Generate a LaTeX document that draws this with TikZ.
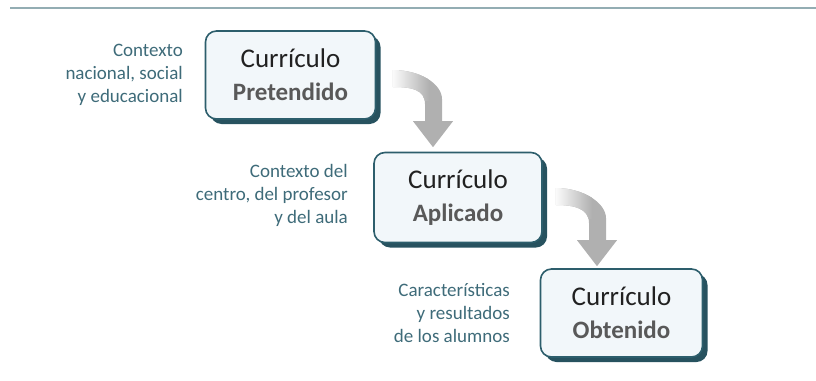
\documentclass[tikz,border=0pt]{standalone}
\usepackage{fontspec}
\setmainfont{Carlito}
\usetikzlibrary{calc,shadows}
\definecolor{boxborder}{HTML}{2D5E6C}
\definecolor{boxshadow}{HTML}{27525F}
\definecolor{boxfill}{HTML}{F2F7FA}
\definecolor{labelc}{HTML}{3E6B79}
\definecolor{toplinec}{HTML}{93ADB3}
\definecolor{secondc}{HTML}{595959}
\definecolor{arrowc}{HTML}{B0B0B0}
\tikzset{
  currbox/.style={draw=boxborder, line width=1.6pt, fill=boxfill, rounded corners=11pt,
    minimum height=88pt, inner sep=0pt, align=center,
    font=\fontsize{27}{33}\selectfont, text=black!87,
    drop shadow={shadow xshift=5pt, shadow yshift=-5pt, fill=boxshadow, opacity=1}},
  ctxlabel/.style={anchor=east, align=right, inner sep=0pt, text=labelc,
    font=\fontsize{19}{23}\selectfont},
}
\newcommand\flowarrow[2]{%
  \begin{scope}
    \clip (#1) .. controls ($(#1)+(28,0)$) and ($(#2)+(9,-63)$) .. ($(#2)+(9,-48)$)
      -- ($(#2)+(9,-26)$) -- ($(#2)+(20,-26)$) -- (#2) -- ($(#2)+(-20,-26)$)
      -- ($(#2)+(-8,-26)$) -- ($(#2)+(-8,-43)$)
      .. controls ($(#2)+(-8,-58)$) and ($(#1)+(18,17)$) .. ($(#1)+(0,17)$) -- cycle;
    \fill[arrowc] ($(#1)+(-2,-2)$) rectangle ($(#2)+(22,2)$);
    \shade[left color=white, right color=arrowc] ($(#1)+(-2,-2)$) rectangle ($(#1)+(36,30)$);
  \end{scope}}
\begin{document}
\begin{tikzpicture}[x=1pt,y=-1pt]
  \useasboundingbox (0,0) rectangle (816,380);
  \coordinate (tl) at (10,8);
  \coordinate (tr) at (816,8);
  \draw[toplinec, line width=1.5pt] (tl) -- (tr);

  \node[currbox, minimum width=170pt] (b1) at (290.5,75) {Currículo\\{\fontsize{25}{33}\selectfont\bfseries\color{secondc}Pretendido}};
  \node[currbox, minimum width=168pt, minimum height=90pt] (b2) at (458,197.5) {Currículo\\{\fontsize{25}{33}\selectfont\bfseries\color{secondc}Aplicado}};
  \node[currbox, minimum width=162pt] (b3) at (621.5,313) {Currículo\\{\fontsize{25}{33}\selectfont\bfseries\color{secondc}Obtenido}};

  \node[ctxlabel] (l1) at (183,75) {Contexto\\nacional, social\\y educacional};
  \node[ctxlabel] (l2) at (348,195) {Contexto del\\centro, del profesor\\y del aula};
  \node[ctxlabel] (l3) at (510,313) {Características\\y resultados\\de los alumnos};

  \coordinate (a1s) at ($(b1.east)+(16.5,-5)$);
  \coordinate (a1t) at ($(b2.north)+(-25,-4.5)$);
  \coordinate (a2s) at ($(b2.east)+(13,-9.5)$);
  \coordinate (a2t) at ($(b3.north)+(-24.5,-2)$);
  \flowarrow{a1s}{a1t}
  \flowarrow{a2s}{a2t}
\end{tikzpicture}
\end{document}
